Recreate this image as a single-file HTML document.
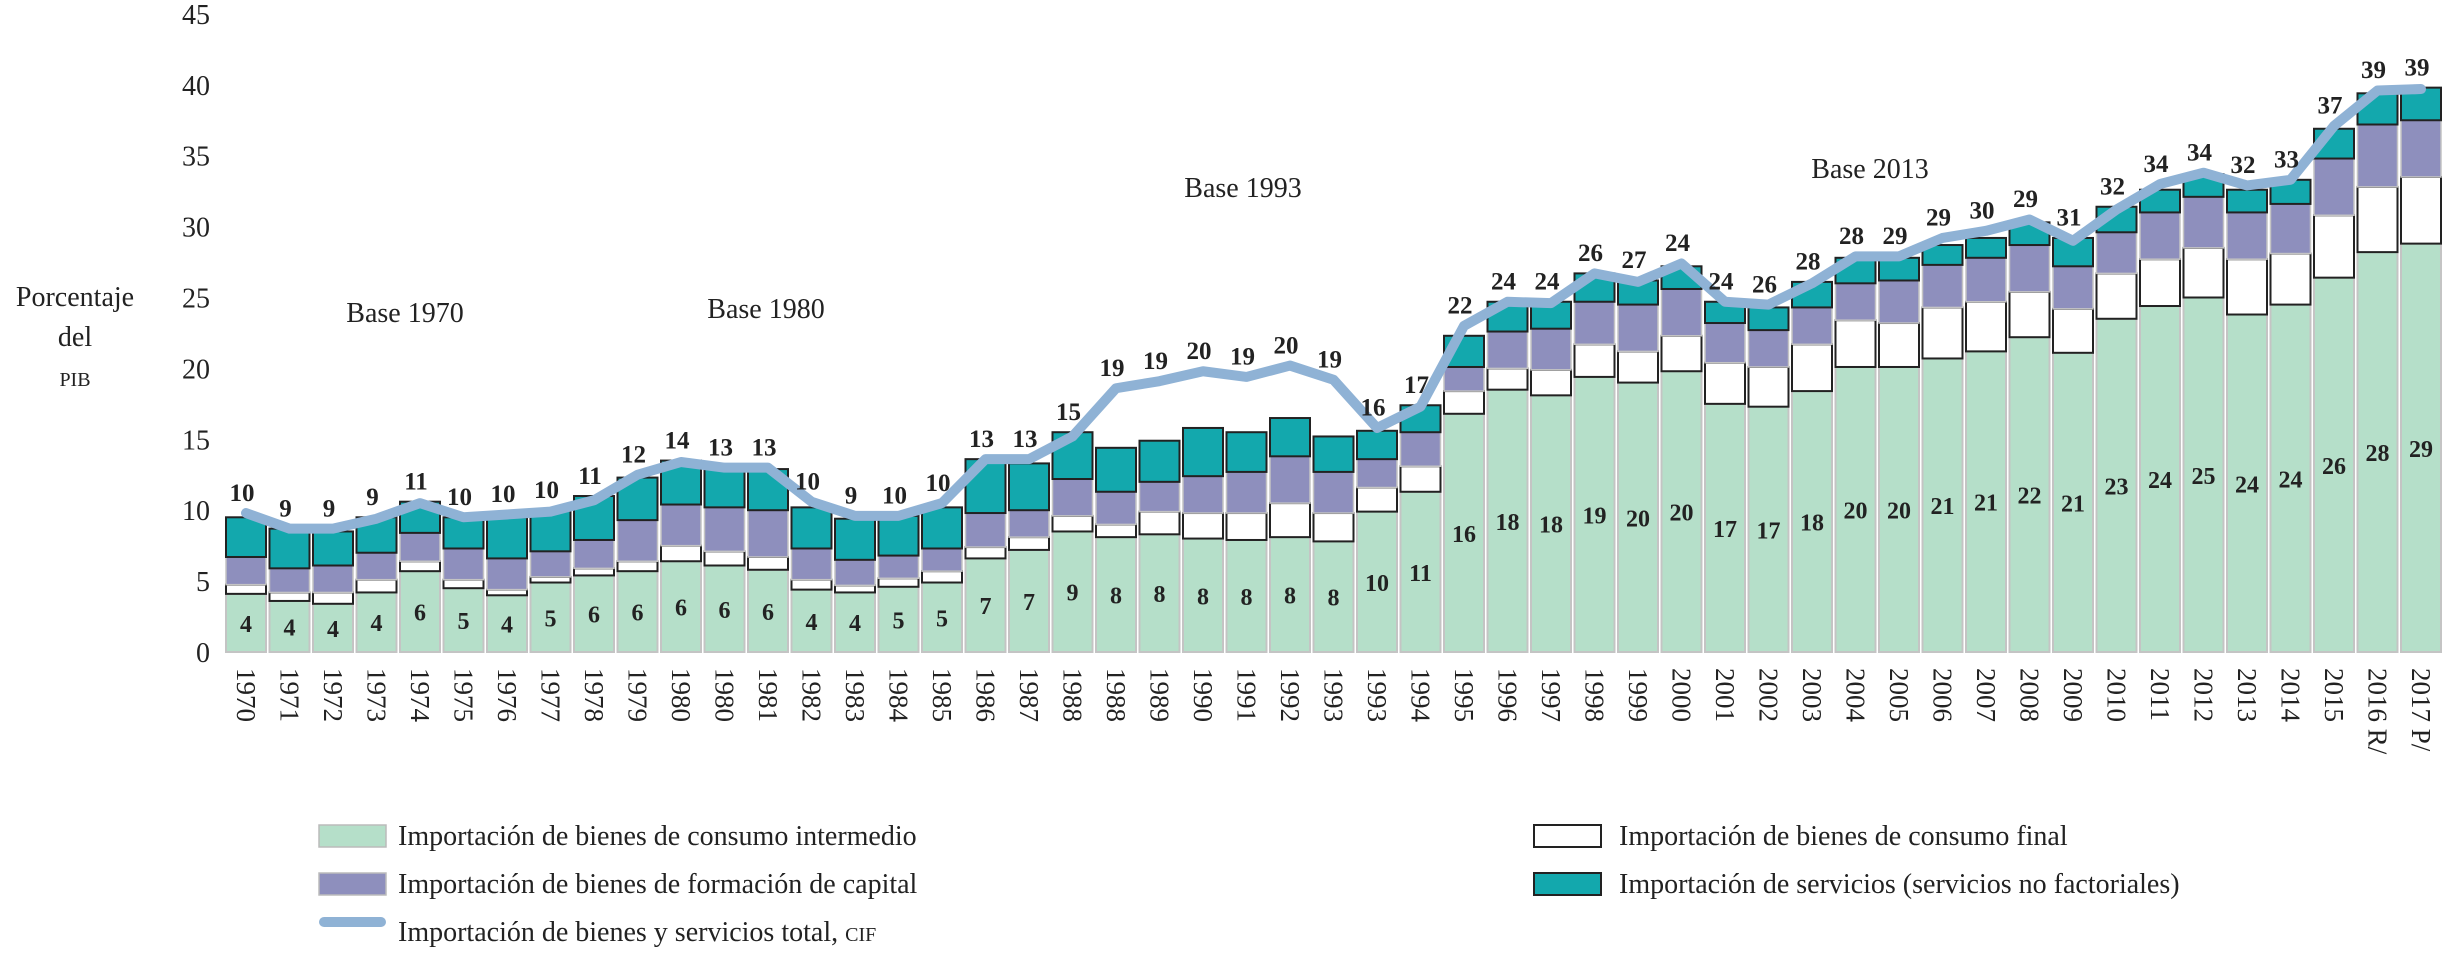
<!DOCTYPE html>
<html><head><meta charset="utf-8">
<style>
html,body{margin:0;padding:0;background:#fff;}
svg{display:block;font-family:"Liberation Serif",serif;}
</style></head>
<body>
<svg id="chart" width="2444" height="954" viewBox="0 0 2444 954" xmlns="http://www.w3.org/2000/svg">
  <g id="yaxis"></g>
  <g id="bars"></g>
  <g id="line"></g>
  <g id="labels"></g>
  <g id="xaxis"></g>
  <text x="75" y="306" font-size="28" text-anchor="middle" fill="#222">Porcentaje</text>
  <text x="75" y="346" font-size="28" text-anchor="middle" fill="#222">del</text>
  <text x="75" y="386" font-size="20" text-anchor="middle" fill="#222">PIB</text>
  <text x="405" y="322" font-size="28" text-anchor="middle" fill="#222">Base 1970</text>
  <text x="766" y="318" font-size="28" text-anchor="middle" fill="#222">Base 1980</text>
  <text x="1243" y="197" font-size="28" text-anchor="middle" fill="#222">Base 1993</text>
  <text x="1870" y="178" font-size="28" text-anchor="middle" fill="#222">Base 2013</text>
  <g font-size="28" fill="#222">
    <rect x="319" y="825" width="67" height="22" fill="#b5dfc9" stroke="#bbb" stroke-width="1.5"/>
    <text x="398" y="845">Importación de bienes de consumo intermedio</text>
    <rect x="319" y="873" width="67" height="22" fill="#8e8fbd" stroke="#bbb" stroke-width="1.5"/>
    <text x="398" y="893">Importación de bienes de formación de capital</text>
    <line x1="324" y1="922" x2="381" y2="922" stroke="#8fb2d5" stroke-width="10" stroke-linecap="round"/>
    <text x="398" y="941">Importación de bienes y servicios total, <tspan font-size="20">CIF</tspan></text>
    <rect x="1534" y="825" width="67" height="22" fill="#fff" stroke="#222" stroke-width="2"/>
    <text x="1619" y="845">Importación de bienes de consumo final</text>
    <rect x="1534" y="873" width="67" height="22" fill="#13a8ad" stroke="#222" stroke-width="2"/>
    <text x="1619" y="893">Importación de servicios (servicios no factoriales)</text>
  </g>
</svg>
<script>
const years = ["1970","1971","1972","1973","1974","1975","1976","1977","1978","1979","1980","1980","1981","1982","1983","1984","1985","1986","1987","1988","1988","1989","1990","1991","1992","1993","1993","1994","1995","1996","1997","1998","1999","2000","2001","2002","2003","2004","2005","2006","2007","2008","2009","2010","2011","2012","2013","2014","2015","2016 R/","2017 P/"];
const intermedio = [4.1,3.6,3.4,4.2,5.7,4.5,4.0,4.9,5.4,5.7,6.4,6.1,5.8,4.4,4.2,4.6,4.9,6.6,7.2,8.5,8.1,8.3,8.0,7.9,8.1,7.8,9.9,11.3,16.8,18.5,18.1,19.4,19.0,19.8,17.5,17.3,18.4,20.1,20.1,20.7,21.2,22.2,21.1,23.5,24.4,25.0,23.8,24.5,26.4,28.2,28.8];
const final = [0.65,0.6,0.8,0.9,0.7,0.6,0.4,0.4,0.5,0.7,1.1,1.0,0.9,0.7,0.5,0.6,0.8,0.8,0.9,1.1,0.9,1.6,1.8,1.9,2.4,2.0,1.7,1.8,1.6,1.5,1.8,2.3,2.2,2.5,2.9,2.8,3.3,3.3,3.1,3.6,3.5,3.2,3.1,3.2,3.3,3.5,3.9,3.6,4.4,4.6,4.7];
const capital = [1.95,1.7,1.9,1.9,2.0,2.2,2.2,1.8,2.0,2.9,2.9,3.1,3.3,2.2,1.8,1.6,1.6,2.4,1.9,2.6,2.3,2.1,2.6,2.9,3.3,2.9,2.0,2.4,1.7,2.6,2.9,3.0,3.3,3.3,2.8,2.6,2.6,2.6,3.0,3.0,3.1,3.3,3.0,2.9,3.3,3.6,3.3,3.5,4.0,4.4,4.0];
const servicios = [2.8,2.8,2.4,2.5,2.2,2.2,2.9,2.9,3.1,3.0,3.1,2.8,2.9,2.9,2.9,2.8,2.9,3.8,3.3,3.3,3.1,2.9,3.4,2.8,2.7,2.5,2.0,1.9,2.2,2.1,1.9,2.0,1.7,1.6,1.5,1.6,1.8,1.8,1.6,1.4,1.4,1.6,2.0,1.8,1.6,1.6,1.6,1.7,2.1,2.2,2.3];
const total = [9.8,8.7,8.7,9.4,10.5,9.5,9.7,9.9,10.7,12.5,13.4,13.0,13.0,10.6,9.6,9.6,10.5,13.6,13.6,15.2,18.6,19.1,19.8,19.4,20.2,19.2,15.8,17.3,23.0,24.7,24.6,26.7,26.1,27.4,24.7,24.5,26.0,27.9,27.9,29.2,29.7,30.5,29.0,31.2,33.0,33.8,32.9,33.3,37.1,39.6,39.7];
const totalLabels = ["10","9","9","9","11","10","10","10","11","12","14","13","13","10","9","10","10","13","13","15","19","19","20","19","20","19","16","17","22","24","24","26","27","24","24","26","28","28","29","29","30","29","31","32","34","34","32","33","37","39","39"];
const intermedioLabels = ["4","4","4","4","6","5","4","5","6","6","6","6","6","4","4","5","5","7","7","9","8","8","8","8","8","8","10","11","16","18","18","19","20","20","17","17","18","20","20","21","21","22","21","23","24","25","24","24","26","28","29"];
const yTicks = [0,5,10,15,20,25,30,35,40,45];

const NS = "http://www.w3.org/2000/svg";
const Y0 = 652, UNIT = 14.18, X0 = 226, PITCH = 43.5, BW = 40;
function yScale(v){ return Y0 - v*UNIT; }
function xLeft(i){ return X0 + i*PITCH; }
function xCenter(i){ return xLeft(i) + BW/2; }
function mk(tag, attrs, parent){
  const el = document.createElementNS(NS, tag);
  for (const k in attrs) el.setAttribute(k, attrs[k]);
  parent.appendChild(el);
  return el;
}
const gy = document.getElementById('yaxis');
yTicks.forEach(t => {
  const el = mk('text', {x: 210, y: yScale(t)+10, 'font-size': 28, 'text-anchor': 'end', fill: '#222'}, gy);
  
  
  el.textContent = t;
});
const gb = document.getElementById('bars');
const series = [
  {vals: intermedio, fill: '#b5dfc9', stroke: '#c4c4c4', sw: 2, name: 'bar-intermedio'},
  {vals: final, fill: '#ffffff', stroke: '#222', sw: 2, name: 'bar-final'},
  {vals: capital, fill: '#8e8fbd', stroke: '#c4c4c4', sw: 1.5, name: 'bar-capital'},
  {vals: servicios, fill: '#13a8ad', stroke: '#222', sw: 2, name: 'bar-servicios'}
];
years.forEach((yr, i) => {
  let base = 0;
  series.forEach(s => {
    const v = s.vals[i];
    const r = mk('rect', {x: xLeft(i), y: yScale(base+v), width: BW, height: v*UNIT, fill: s.fill, stroke: s.stroke, 'stroke-width': s.sw}, gb);
    
    
    base += v;
  });
});
const gl = document.getElementById('line');
const pts = total.map((v, i) => xCenter(i) + ',' + yScale(v)).join(' ');
const pl = mk('polyline', {points: pts, fill: 'none', stroke: '#8fb2d5', 'stroke-width': 10, 'stroke-linejoin': 'round', 'stroke-linecap': 'round'}, gl);


const glab = document.getElementById('labels');
years.forEach((yr, i) => {
  const top = intermedio[i] + final[i] + capital[i] + servicios[i];
  const m = Math.max(top, total[i]);
  const t = mk('text', {x: xCenter(i) - 4, y: yScale(m + 1.5) + 9, 'font-size': 25, 'font-weight': 'bold', 'text-anchor': 'middle', fill: '#222'}, glab);
  
  
  t.textContent = totalLabels[i];
  const g = mk('text', {x: xCenter(i), y: yScale(intermedio[i]/2) + 9, 'font-size': 24, 'font-weight': 'bold', 'text-anchor': 'middle', fill: '#222'}, glab);
  
  
  g.textContent = intermedioLabels[i];
});
const gx = document.getElementById('xaxis');
years.forEach((yr, i) => {
  const cx = xCenter(i) - 9;
  const t = mk('text', {x: cx, y: 668, 'font-size': 27, fill: '#222', transform: 'rotate(90 ' + cx + ' 668)'}, gx);
  
  
  t.textContent = yr;
});
</script>
</body></html>
